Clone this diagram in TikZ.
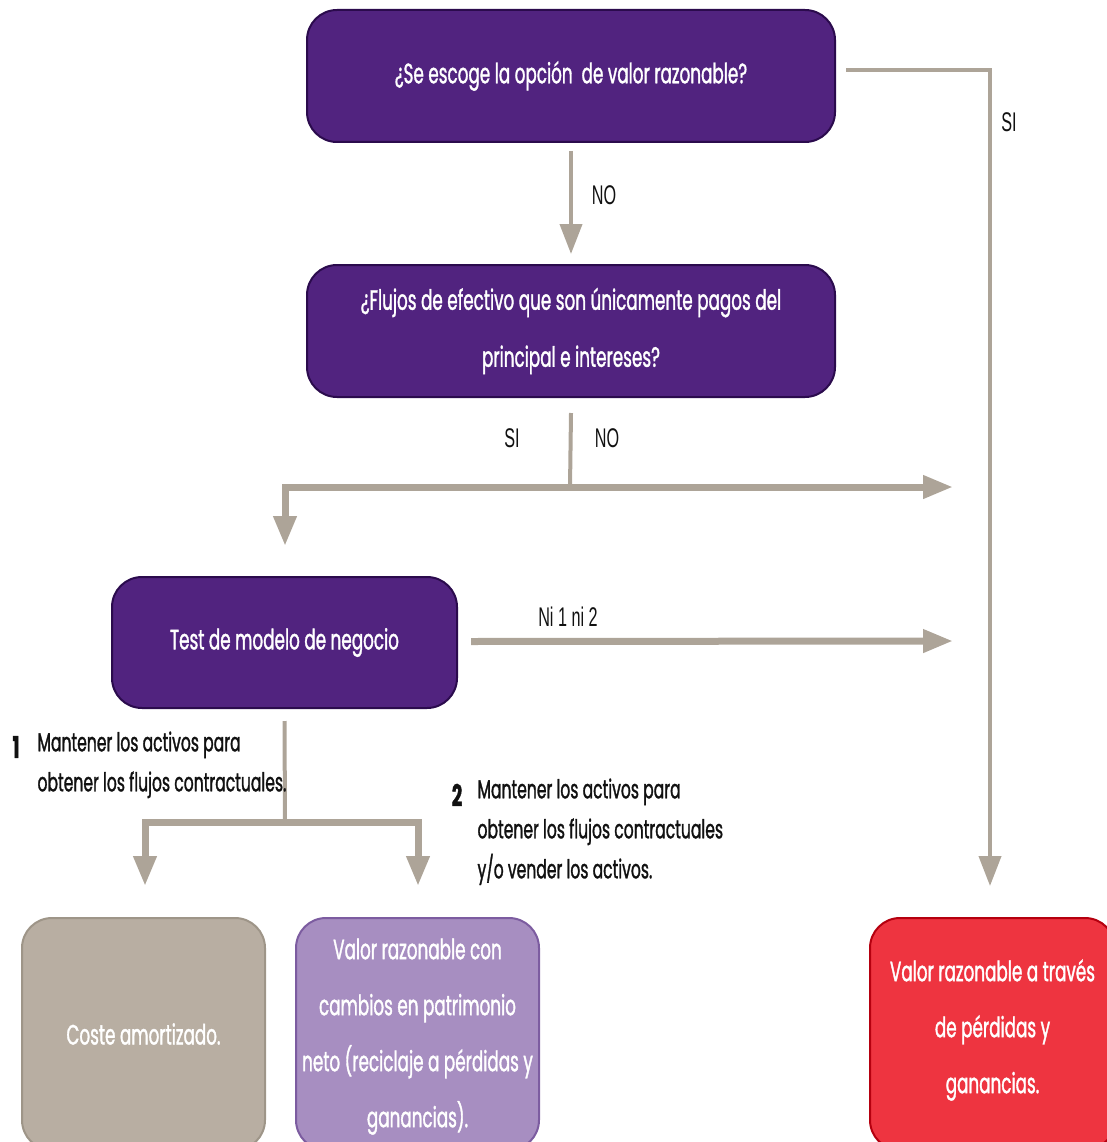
\documentclass[tikz,border=0pt]{standalone}
\usepackage{fontspec}
\setmainfont[FakeStretch=0.6, FakeBold=1.2]{Poppins}
\newfontfamily\labelfont[FakeStretch=0.6]{Liberation Sans}
\usetikzlibrary{arrows.meta}
\definecolor{morado}{HTML}{51237F}
\definecolor{moradoborde}{HTML}{2B0B4D}
\definecolor{lila}{HTML}{A78EC1}
\definecolor{lilaborde}{HTML}{7C5CA0}
\definecolor{piedra}{HTML}{B8AEA2}
\definecolor{piedraborde}{HTML}{9E9588}
\definecolor{rojo}{HTML}{EE3440}
\definecolor{rojoborde}{HTML}{B5000F}
\definecolor{linea}{HTML}{ADA498}
\definecolor{tinta}{HTML}{111111}
\newcommand{\subetexto}[2]{\raisebox{#1}[\height][\depth]{\begin{tabular}{@{}c@{}}#2\end{tabular}}}

\begin{document}
\begin{tikzpicture}[x=1pt,y=-1pt,
    caja/.style={rounded corners=30pt, line width=2pt, draw=moradoborde, fill=morado,
        text=white, align=center, font=\fontsize{28}{57}\selectfont},
    final/.style={rounded corners=30pt, line width=2pt, text=white, align=center,
        minimum width=243pt, minimum height=232pt, font=\fontsize{28}{56}\selectfont},
    fino/.style={draw=linea, line width=4pt},
    grueso/.style={draw=linea, line width=7pt},
    flecha/.style={-{Triangle[width=22pt,length=30pt]}},
    flechas/.style={{Triangle[width=22pt,length=30pt]}-{Triangle[width=22pt,length=30pt]}},
    etiqueta/.style={text=tinta, font=\labelfont\fontsize{27}{32}\selectfont},
    nota/.style={text=tinta, align=left, anchor=north west, font=\fontsize{26}{40}\selectfont},
    numero/.style={text=tinta, font=\bfseries\fontsize{30}{36}\selectfont}]

    \useasboundingbox (0,0) rectangle (1107,1142);

    % preguntas
    \node[caja, minimum width=528pt, minimum height=132pt] (opcion) at (571,76) {¿Se escoge la opción \ de valor razonable?};
    \node[caja, minimum width=528pt, minimum height=132pt] (flujos) at (571,331) {¿Flujos de efectivo que son únicamente pagos del\\principal e intereses?};
    \node[caja, minimum width=345pt, minimum height=131pt] (test) at (284.5,642.5) {Test de modelo de negocio};

    % resultados
    \node[final, draw=piedraborde, fill=piedra] (coste) at (143.5,1034) {Coste amortizado.};
    \node[final, draw=lilaborde, fill=lila] (patrimonio) at (417.5,1034) {\subetexto{2pt}{Valor razonable con\\cambios en patrimonio\\neto (reciclaje a pérdidas y\\ganancias).}};
    \node[final, draw=rojoborde, fill=rojo, minimum width=245pt] (perdidas) at (992.5,1034) {\subetexto{8pt}{Valor razonable a través\\de pérdidas y\\ganancias.}};

    % puntos de paso
    \coordinate (si1) at (990,886);
    \coordinate (cruce) at (570,487);
    \coordinate (no2) at (953,487);
    \coordinate (si2) at (285,546);
    \coordinate (ninguno) at (953,641);
    \coordinate (reparto) at (285,822);
    \coordinate (uno) at (145,886);
    \coordinate (dos) at (418,886);

    % conectores
    \draw[fino, flecha] ([xshift=10pt,yshift=6pt]opcion.east) -| (si1);
    \draw[fino, flecha] ([yshift=-8pt]opcion.south) -- ([yshift=10pt]flujos.north);
    \draw[fino] ([yshift=-15pt]flujos.south) -- (cruce);
    \draw[grueso, flechas] (si2) |- (no2);
    \draw[grueso, flecha] ([xshift=13pt,yshift=1pt]test.east) -- (ninguno);
    \draw[fino] ([yshift=-12pt]test.south) -- (reparto);
    \draw[grueso, flechas] (uno) |- (reparto) -| (dos);

    % etiquetas
    \node[etiqueta] (tsi1) at (1009,122) {SI};
    \node[etiqueta] (tno1) at (604,195) {NO};
    \node[etiqueta] (tsi2) at (512,438) {SI};
    \node[etiqueta] (tno2) at (607,438) {NO};
    \node[etiqueta] (tni) at (568,617) {Ni 1 ni 2};

    \node[numero] (n1) at (16,747) {1};
    \node[nota] (t1) at (34,728) {Mantener los activos para\\obtener los flujos contractuales.};
    \node[numero] (n2) at (457,795) {2};
    \node[nota] (t2) at (474,775) {Mantener los activos para\\obtener los flujos contractuales\\y/o vender los activos.};
\end{tikzpicture}
\end{document}
